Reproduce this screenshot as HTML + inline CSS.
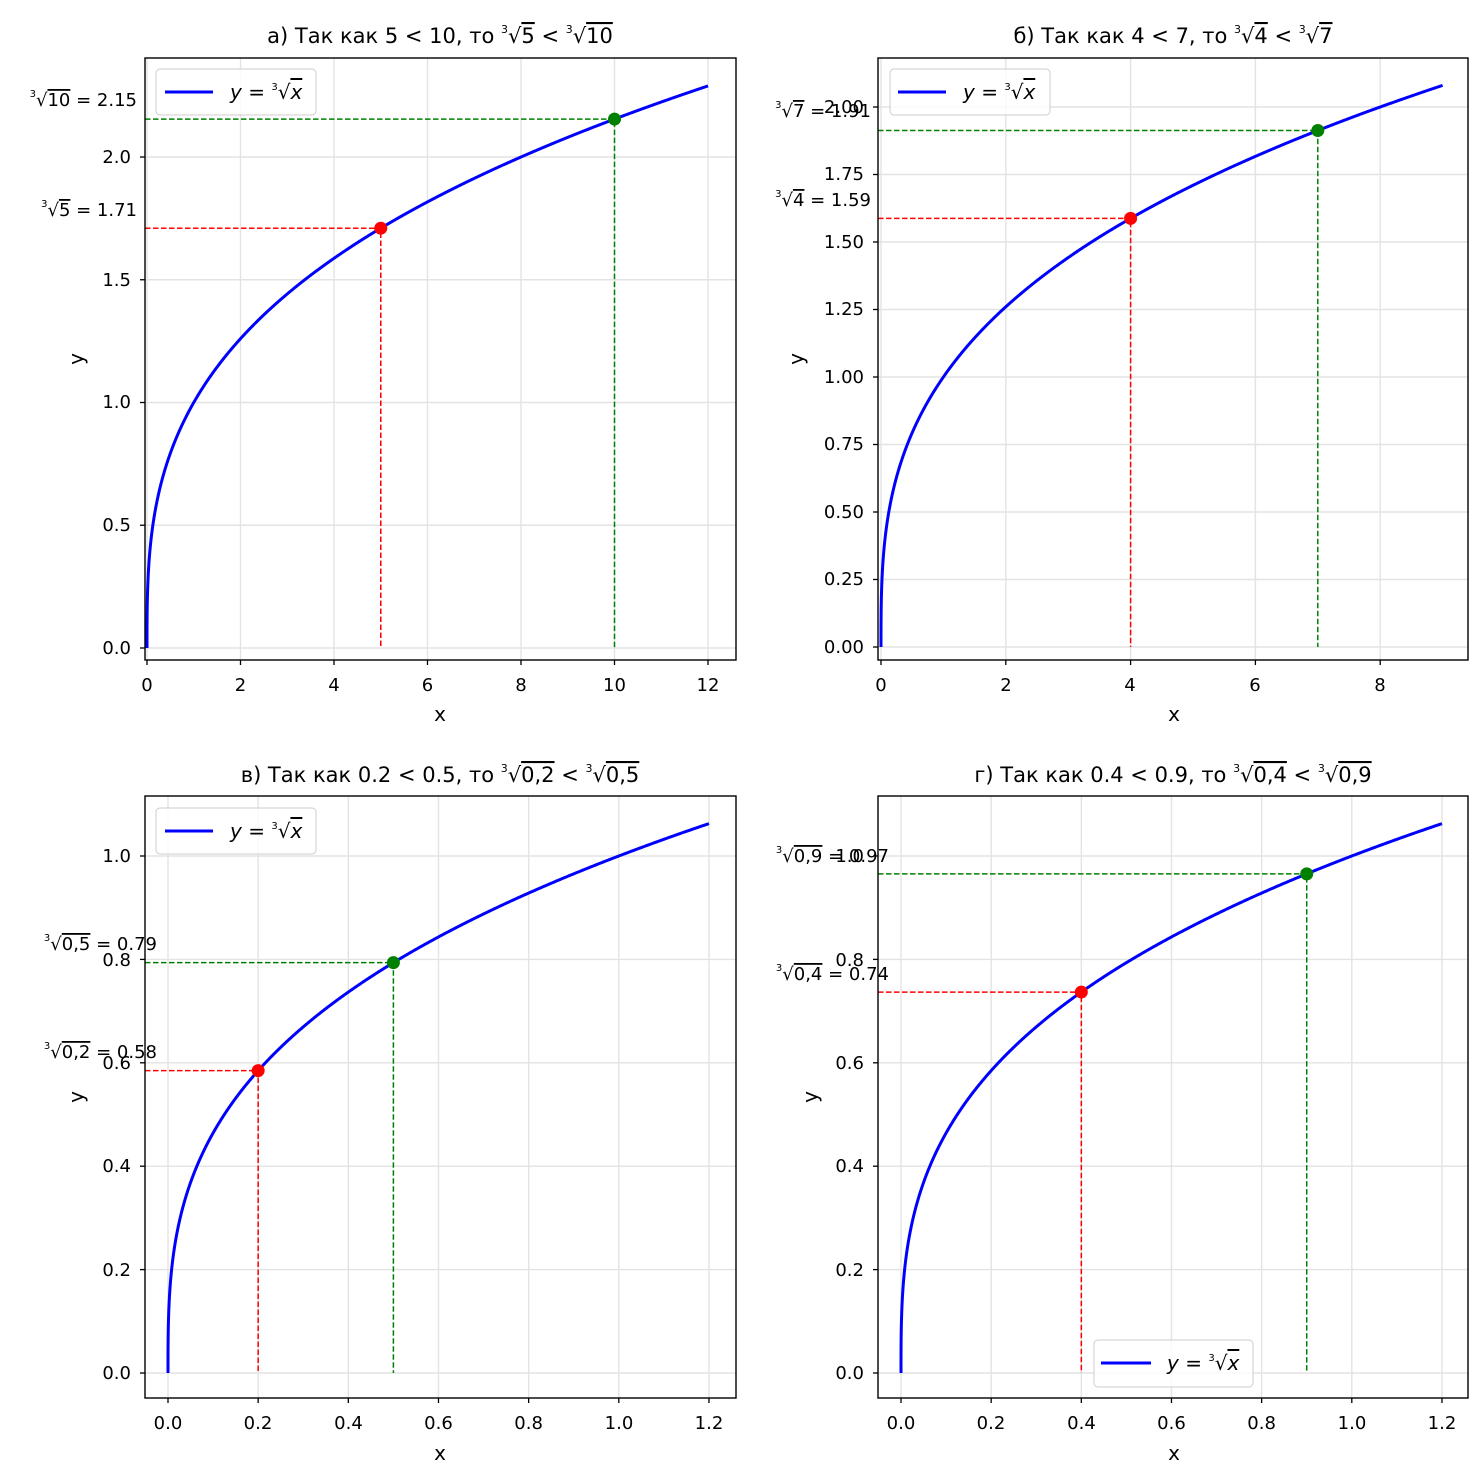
<!DOCTYPE html>
<html><head><meta charset="utf-8"><style>
body{margin:0;background:#fff}
svg{font-family:"DejaVu Sans","Liberation Sans",sans-serif;display:block}
.t{font-size:18px;fill:#000}
.ti{font-size:21px}
.lg{font-size:20px;font-style:italic}
</style></head><body>
<svg id="s" width="1484" height="1481" xmlns="http://www.w3.org/2000/svg">
<g id="dyn"></g>
<text class="ti" x="440" y="43" text-anchor="middle">а)  Так как 5 &lt; 10, то <tspan font-size="11" dy="-10">3</tspan><tspan dy="10">√</tspan><tspan text-decoration="overline">5</tspan> &lt; <tspan font-size="11" dy="-10">3</tspan><tspan dy="10">√</tspan><tspan text-decoration="overline">10</tspan></text>
<text class="ti" x="1173" y="43" text-anchor="middle">б)  Так как 4 &lt; 7, то <tspan font-size="11" dy="-10">3</tspan><tspan dy="10">√</tspan><tspan text-decoration="overline">4</tspan> &lt; <tspan font-size="11" dy="-10">3</tspan><tspan dy="10">√</tspan><tspan text-decoration="overline">7</tspan></text>
<text class="ti" x="440" y="782" text-anchor="middle">в)  Так как 0.2 &lt; 0.5, то <tspan font-size="11" dy="-10">3</tspan><tspan dy="10">√</tspan><tspan text-decoration="overline">0,2</tspan> &lt; <tspan font-size="11" dy="-10">3</tspan><tspan dy="10">√</tspan><tspan text-decoration="overline">0,5</tspan></text>
<text class="ti" x="1173" y="782" text-anchor="middle">г)  Так как 0.4 &lt; 0.9, то <tspan font-size="11" dy="-10">3</tspan><tspan dy="10">√</tspan><tspan text-decoration="overline">0,4</tspan> &lt; <tspan font-size="11" dy="-10">3</tspan><tspan dy="10">√</tspan><tspan text-decoration="overline">0,9</tspan></text>

<g font-size="20">
<text x="440" y="721" text-anchor="middle">x</text>
<text x="1174" y="721" text-anchor="middle">x</text>
<text x="440" y="1460" text-anchor="middle">x</text>
<text x="1174" y="1460" text-anchor="middle">x</text>
<text transform="translate(83,359) rotate(-90)" text-anchor="middle">y</text>
<text transform="translate(803,359) rotate(-90)" text-anchor="middle">y</text>
<text transform="translate(83,1097) rotate(-90)" text-anchor="middle">y</text>
<text transform="translate(817,1097) rotate(-90)" text-anchor="middle">y</text>
</g>

<g class="t" text-anchor="middle">
<text x="147" y="691">0</text><text x="240.5" y="691">2</text><text x="334" y="691">4</text><text x="427.5" y="691">6</text><text x="521" y="691">8</text><text x="614.5" y="691">10</text><text x="708" y="691">12</text>
<text x="881" y="691">0</text><text x="1006" y="691">2</text><text x="1130" y="691">4</text><text x="1255" y="691">6</text><text x="1380" y="691">8</text>
<text x="168" y="1429">0.0</text><text x="258" y="1429">0.2</text><text x="348.5" y="1429">0.4</text><text x="438.5" y="1429">0.6</text><text x="528.6" y="1429">0.8</text><text x="619" y="1429">1.0</text><text x="709" y="1429">1.2</text>
<text x="901" y="1429">0.0</text><text x="991" y="1429">0.2</text><text x="1081.5" y="1429">0.4</text><text x="1171.5" y="1429">0.6</text><text x="1261.6" y="1429">0.8</text><text x="1352" y="1429">1.0</text><text x="1442" y="1429">1.2</text>
</g>
<g class="t" text-anchor="end">
<text x="131" y="654">0.0</text><text x="131" y="531">0.5</text><text x="131" y="408">1.0</text><text x="131" y="286">1.5</text><text x="131" y="163">2.0</text>
<text x="864" y="653">0.00</text><text x="864" y="585">0.25</text><text x="864" y="518">0.50</text><text x="864" y="450">0.75</text><text x="864" y="383">1.00</text><text x="864" y="315">1.25</text><text x="864" y="248">1.50</text><text x="864" y="180">1.75</text><text x="864" y="113">2.00</text>
<text x="131" y="1379">0.0</text><text x="131" y="1276">0.2</text><text x="131" y="1172">0.4</text><text x="131" y="1069">0.6</text><text x="131" y="966">0.8</text><text x="131" y="862">1.0</text>
<text x="864" y="1379">0.0</text><text x="864" y="1276">0.2</text><text x="864" y="1172">0.4</text><text x="864" y="1069">0.6</text><text x="864" y="966">0.8</text><text x="864" y="862">1.0</text>
</g>
<g class="t" text-anchor="end">
<text x="137" y="106"><tspan font-size="10" dy="-9">3</tspan><tspan dy="9">√</tspan><tspan text-decoration="overline">10</tspan> = 2.15</text>
<text x="137" y="216"><tspan font-size="10" dy="-9">3</tspan><tspan dy="9">√</tspan><tspan text-decoration="overline">5</tspan> = 1.71</text>
<text x="871" y="117"><tspan font-size="10" dy="-9">3</tspan><tspan dy="9">√</tspan><tspan text-decoration="overline">7</tspan> = 1.91</text>
<text x="871" y="206"><tspan font-size="10" dy="-9">3</tspan><tspan dy="9">√</tspan><tspan text-decoration="overline">4</tspan> = 1.59</text>
<text x="157" y="950"><tspan font-size="10" dy="-9">3</tspan><tspan dy="9">√</tspan><tspan text-decoration="overline">0,5</tspan> = 0.79</text>
<text x="157" y="1058"><tspan font-size="10" dy="-9">3</tspan><tspan dy="9">√</tspan><tspan text-decoration="overline">0,2</tspan> = 0.58</text>
<text x="889" y="862"><tspan font-size="10" dy="-9">3</tspan><tspan dy="9">√</tspan><tspan text-decoration="overline">0,9</tspan> = 0.97</text>
<text x="889" y="980"><tspan font-size="10" dy="-9">3</tspan><tspan dy="9">√</tspan><tspan text-decoration="overline">0,4</tspan> = 0.74</text>
</g>
<g>
<rect x="156" y="69" width="160" height="46" rx="4" fill="#fff" fill-opacity="0.8" stroke="#ccc"/>
<line x1="165" y1="92" x2="213" y2="92" stroke="#00f" stroke-width="3"/>
<text class="lg" x="230" y="99">y = <tspan font-size="10" font-style="normal" dy="-9">3</tspan><tspan font-style="normal" dy="9">√</tspan><tspan text-decoration="overline">x</tspan></text>
<rect x="890" y="69" width="160" height="46" rx="4" fill="#fff" fill-opacity="0.8" stroke="#ccc"/>
<line x1="898" y1="92" x2="946" y2="92" stroke="#00f" stroke-width="3"/>
<text class="lg" x="963" y="99">y = <tspan font-size="10" font-style="normal" dy="-9">3</tspan><tspan font-style="normal" dy="9">√</tspan><tspan text-decoration="overline">x</tspan></text>
<rect x="156" y="808" width="160" height="46" rx="4" fill="#fff" fill-opacity="0.8" stroke="#ccc"/>
<line x1="165" y1="831" x2="213" y2="831" stroke="#00f" stroke-width="3"/>
<text class="lg" x="230" y="838">y = <tspan font-size="10" font-style="normal" dy="-9">3</tspan><tspan font-style="normal" dy="9">√</tspan><tspan text-decoration="overline">x</tspan></text>
<rect x="1094" y="1340" width="159" height="47" rx="4" fill="#fff" fill-opacity="0.8" stroke="#ccc"/>
<line x1="1101" y1="1363" x2="1151" y2="1363" stroke="#00f" stroke-width="3"/>
<text class="lg" x="1167" y="1370">y = <tspan font-size="10" font-style="normal" dy="-9">3</tspan><tspan font-style="normal" dy="9">√</tspan><tspan text-decoration="overline">x</tspan></text>
</g>
</svg>
<script>
var NS="http://www.w3.org/2000/svg",g=document.getElementById('dyn');
function el(n,a){var e=document.createElementNS(NS,n);for(var k in a)e.setAttribute(k,a[k]);g.appendChild(e);return e;}
var P=[
 {L:145,R:736,T:58,B:660,x0:147,sx:46.75,y0:648,sy:245.5,xt:[0,2,4,6,8,10,12],yt:[0,.5,1,1.5,2],xmax:12,p:[5,10]},
 {L:878,R:1468,T:58,B:660,x0:881,sx:62.4,y0:647,sy:270,xt:[0,2,4,6,8],yt:[0,.25,.5,.75,1,1.25,1.5,1.75,2],xmax:9,p:[4,7]},
 {L:145,R:736,T:796,B:1398,x0:168,sx:450.8,y0:1373,sy:517,xt:[0,.2,.4,.6,.8,1,1.2],yt:[0,.2,.4,.6,.8,1],xmax:1.2,p:[.2,.5]},
 {L:878,R:1468,T:796,B:1398,x0:901,sx:450.8,y0:1373,sy:517,xt:[0,.2,.4,.6,.8,1,1.2],yt:[0,.2,.4,.6,.8,1],xmax:1.2,p:[.4,.9]}
];
P.forEach(function(a){
 var X=function(x){return a.x0+a.sx*x},Y=function(y){return a.y0-a.sy*y};
 a.xt.forEach(function(t){var x=X(t);el('line',{x1:x,x2:x,y1:a.T,y2:a.B,stroke:'#e3e3e3','stroke-width':1.4});el('line',{x1:x,x2:x,y1:a.B,y2:a.B+5,stroke:'#000','stroke-width':1.3});});
 a.yt.forEach(function(t){var y=Y(t);el('line',{x1:a.L,x2:a.R,y1:y,y2:y,stroke:'#e3e3e3','stroke-width':1.4});el('line',{x1:a.L-5,x2:a.L,y1:y,y2:y,stroke:'#000','stroke-width':1.3});});
 var d='';for(var i=0;i<=600;i++){var x=a.xmax*Math.pow(i/600,3);d+=(i?'L':'M')+X(x).toFixed(2)+' '+Y(Math.cbrt(x)).toFixed(2);}
 var cols=['#f00','#008000'];
 a.p.forEach(function(v,j){var px=X(v),py=Y(Math.cbrt(v));
  el('path',{d:'M'+a.L+' '+py+'H'+px+'V'+a.y0,fill:'none',stroke:cols[j],'stroke-width':1.5,'stroke-dasharray':'5.5 2.5'});});
 el('path',{d:d,fill:'none',stroke:'#00f','stroke-width':3});
 a.p.forEach(function(v,j){el('circle',{cx:X(v),cy:Y(Math.cbrt(v)),r:6.5,fill:cols[j]});});
 el('rect',{x:a.L,y:a.T,width:a.R-a.L,height:a.B-a.T,fill:'none',stroke:'#000','stroke-width':1.4});
});
</script>
</body></html>
